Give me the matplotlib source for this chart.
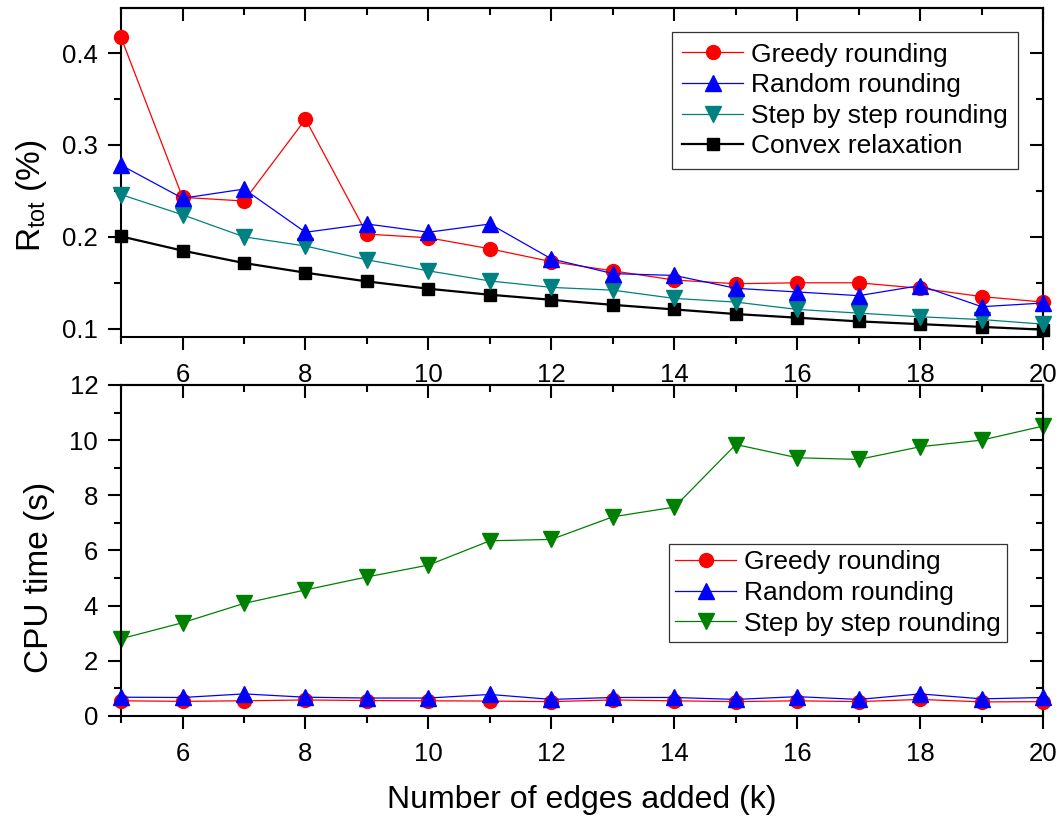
import matplotlib
matplotlib.use("Agg")
import matplotlib.pyplot as plt
from matplotlib.ticker import MultipleLocator

plt.rcParams['font.family'] = ['Liberation Sans', 'DejaVu Sans']
plt.rcParams['mathtext.fontset'] = 'custom'
plt.rcParams['mathtext.rm'] = 'Liberation Sans'
plt.rcParams['mathtext.it'] = 'Liberation Sans'

# numero di archi aggiunti
k = list(range(5, 21))

# R_tot (%)
r_greedy = [0.417, 0.243, 0.239, 0.328, 0.203, 0.199, 0.187, 0.173,
            0.163, 0.153, 0.149, 0.150, 0.150, 0.144, 0.135, 0.129]
r_random = [0.278, 0.242, 0.252, 0.205, 0.214, 0.205, 0.214, 0.176,
            0.160, 0.158, 0.144, 0.140, 0.136, 0.147, 0.124, 0.128]
r_step = [0.246, 0.224, 0.200, 0.190, 0.175, 0.163, 0.152, 0.145,
          0.142, 0.133, 0.129, 0.121, 0.117, 0.113, 0.110, 0.105]
r_convex = [0.2005, 0.185, 0.1715, 0.161, 0.1515, 0.1435, 0.137, 0.1315,
            0.126, 0.121, 0.116, 0.112, 0.108, 0.105, 0.102, 0.099]

# tempo CPU (s)
t_greedy = [0.55, 0.53, 0.55, 0.58, 0.56, 0.55, 0.54, 0.52,
            0.58, 0.55, 0.52, 0.55, 0.52, 0.60, 0.51, 0.52]
t_random = [0.68, 0.67, 0.80, 0.68, 0.65, 0.65, 0.78, 0.60,
            0.67, 0.67, 0.60, 0.70, 0.60, 0.80, 0.62, 0.67]
t_step = [2.80, 3.38, 4.08, 4.57, 5.04, 5.47, 6.35, 6.40,
          7.22, 7.57, 9.84, 9.36, 9.30, 9.76, 10.00, 10.51]

labels = ["Greedy rounding", "Random rounding", "Step by step rounding", "Convex relaxation"]

fig = plt.figure(figsize=(10.6, 8.19), dpi=100)
ax1 = fig.add_axes([0.1142, 0.5885, 0.870, 0.4017])
ax2 = fig.add_axes([0.1142, 0.1258, 0.870, 0.4042])

ax1.plot(k, r_greedy, color='red', lw=0.9, marker='o', ms=10, label=labels[0], clip_on=False, zorder=4)
ax1.plot(k, r_random, color='blue', lw=0.9, marker='^', ms=11, label=labels[1], clip_on=False, zorder=5)
ax1.plot(k, r_step, color='#008080', lw=0.9, marker='v', ms=11, label=labels[2], clip_on=False, zorder=3)
ax1.plot(k, r_convex, color='black', lw=1.6, marker='s', ms=8, label=labels[3], clip_on=False, zorder=2)
ax1.set_ylim(0.091, 0.449)
ax1.yaxis.set_major_locator(MultipleLocator(0.1))
ax1.yaxis.set_minor_locator(MultipleLocator(0.05))
ax1.set_ylabel(r"R$_{\mathregular{tot}}$ (%)", fontsize=24)
ax1.yaxis.set_label_coords(-0.078, 0.43)

ax2.plot(k, t_greedy, color='red', lw=0.9, marker='o', ms=10, label=labels[0], clip_on=False, zorder=3)
ax2.plot(k, t_random, color='blue', lw=0.9, marker='^', ms=11, label=labels[1], clip_on=False, zorder=4)
ax2.plot(k, t_step, color='green', lw=0.9, marker='v', ms=11, label=labels[2], clip_on=False, zorder=2)
ax2.set_ylim(0, 12)
ax2.yaxis.set_major_locator(MultipleLocator(2))
ax2.yaxis.set_minor_locator(MultipleLocator(1))
ax2.set_ylabel("CPU time (s)", fontsize=24)
ax2.yaxis.set_label_coords(-0.0716, 0.42)
ax2.set_xlabel("Number of edges added (k)", fontsize=23, labelpad=14)

for ax in (ax1, ax2):
    ax.set_xlim(5, 20)
    ax.xaxis.set_major_locator(MultipleLocator(2))
    ax.xaxis.set_minor_locator(MultipleLocator(1))
    for s in ax.spines.values():
        s.set_linewidth(1.5)
    # tacche esterne in basso/sinistra, interne in alto/destra
    ax.tick_params(which='both', direction='out', top=False, right=False,
                   width=1.5, labelsize=18.5)
    ax.tick_params(which='major', length=9.5, pad=7)
    ax.tick_params(which='minor', length=5)
    ax.tick_params(axis='x', which='major', pad=9)
    sec_x = ax.secondary_xaxis('top')
    sec_x.xaxis.set_major_locator(MultipleLocator(2))
    sec_x.xaxis.set_minor_locator(MultipleLocator(1))
    sec_x.tick_params(which='both', direction='in', width=1.5, labeltop=False)
    sec_x.tick_params(which='major', length=9.5)
    sec_x.tick_params(which='minor', length=5)
    sec_x.spines['top'].set_linewidth(1.5)
    sec_y = ax.secondary_yaxis('right')
    sec_y.yaxis.set_major_locator(ax.yaxis.get_major_locator())
    sec_y.yaxis.set_minor_locator(ax.yaxis.get_minor_locator())
    sec_y.tick_params(which='both', direction='in', width=1.5, labelright=False)
    sec_y.tick_params(which='major', length=9.5)
    sec_y.tick_params(which='minor', length=5)
    sec_y.spines['right'].set_linewidth(1.5)

leg_kw = dict(loc='upper right', fontsize=19, frameon=True, fancybox=False,
              edgecolor='black', handlelength=2.3, labelspacing=0.25,
              handletextpad=0.3, borderaxespad=0)
leg1 = ax1.legend(bbox_to_anchor=(0.973, 0.927), borderpad=0.4, **leg_kw)
leg1.get_frame().set_linewidth(0.9)
leg2 = ax2.legend(bbox_to_anchor=(0.961, 0.520), borderpad=0.25, **leg_kw)
leg2.get_frame().set_linewidth(0.9)

plt.savefig("out.png", dpi=100)
